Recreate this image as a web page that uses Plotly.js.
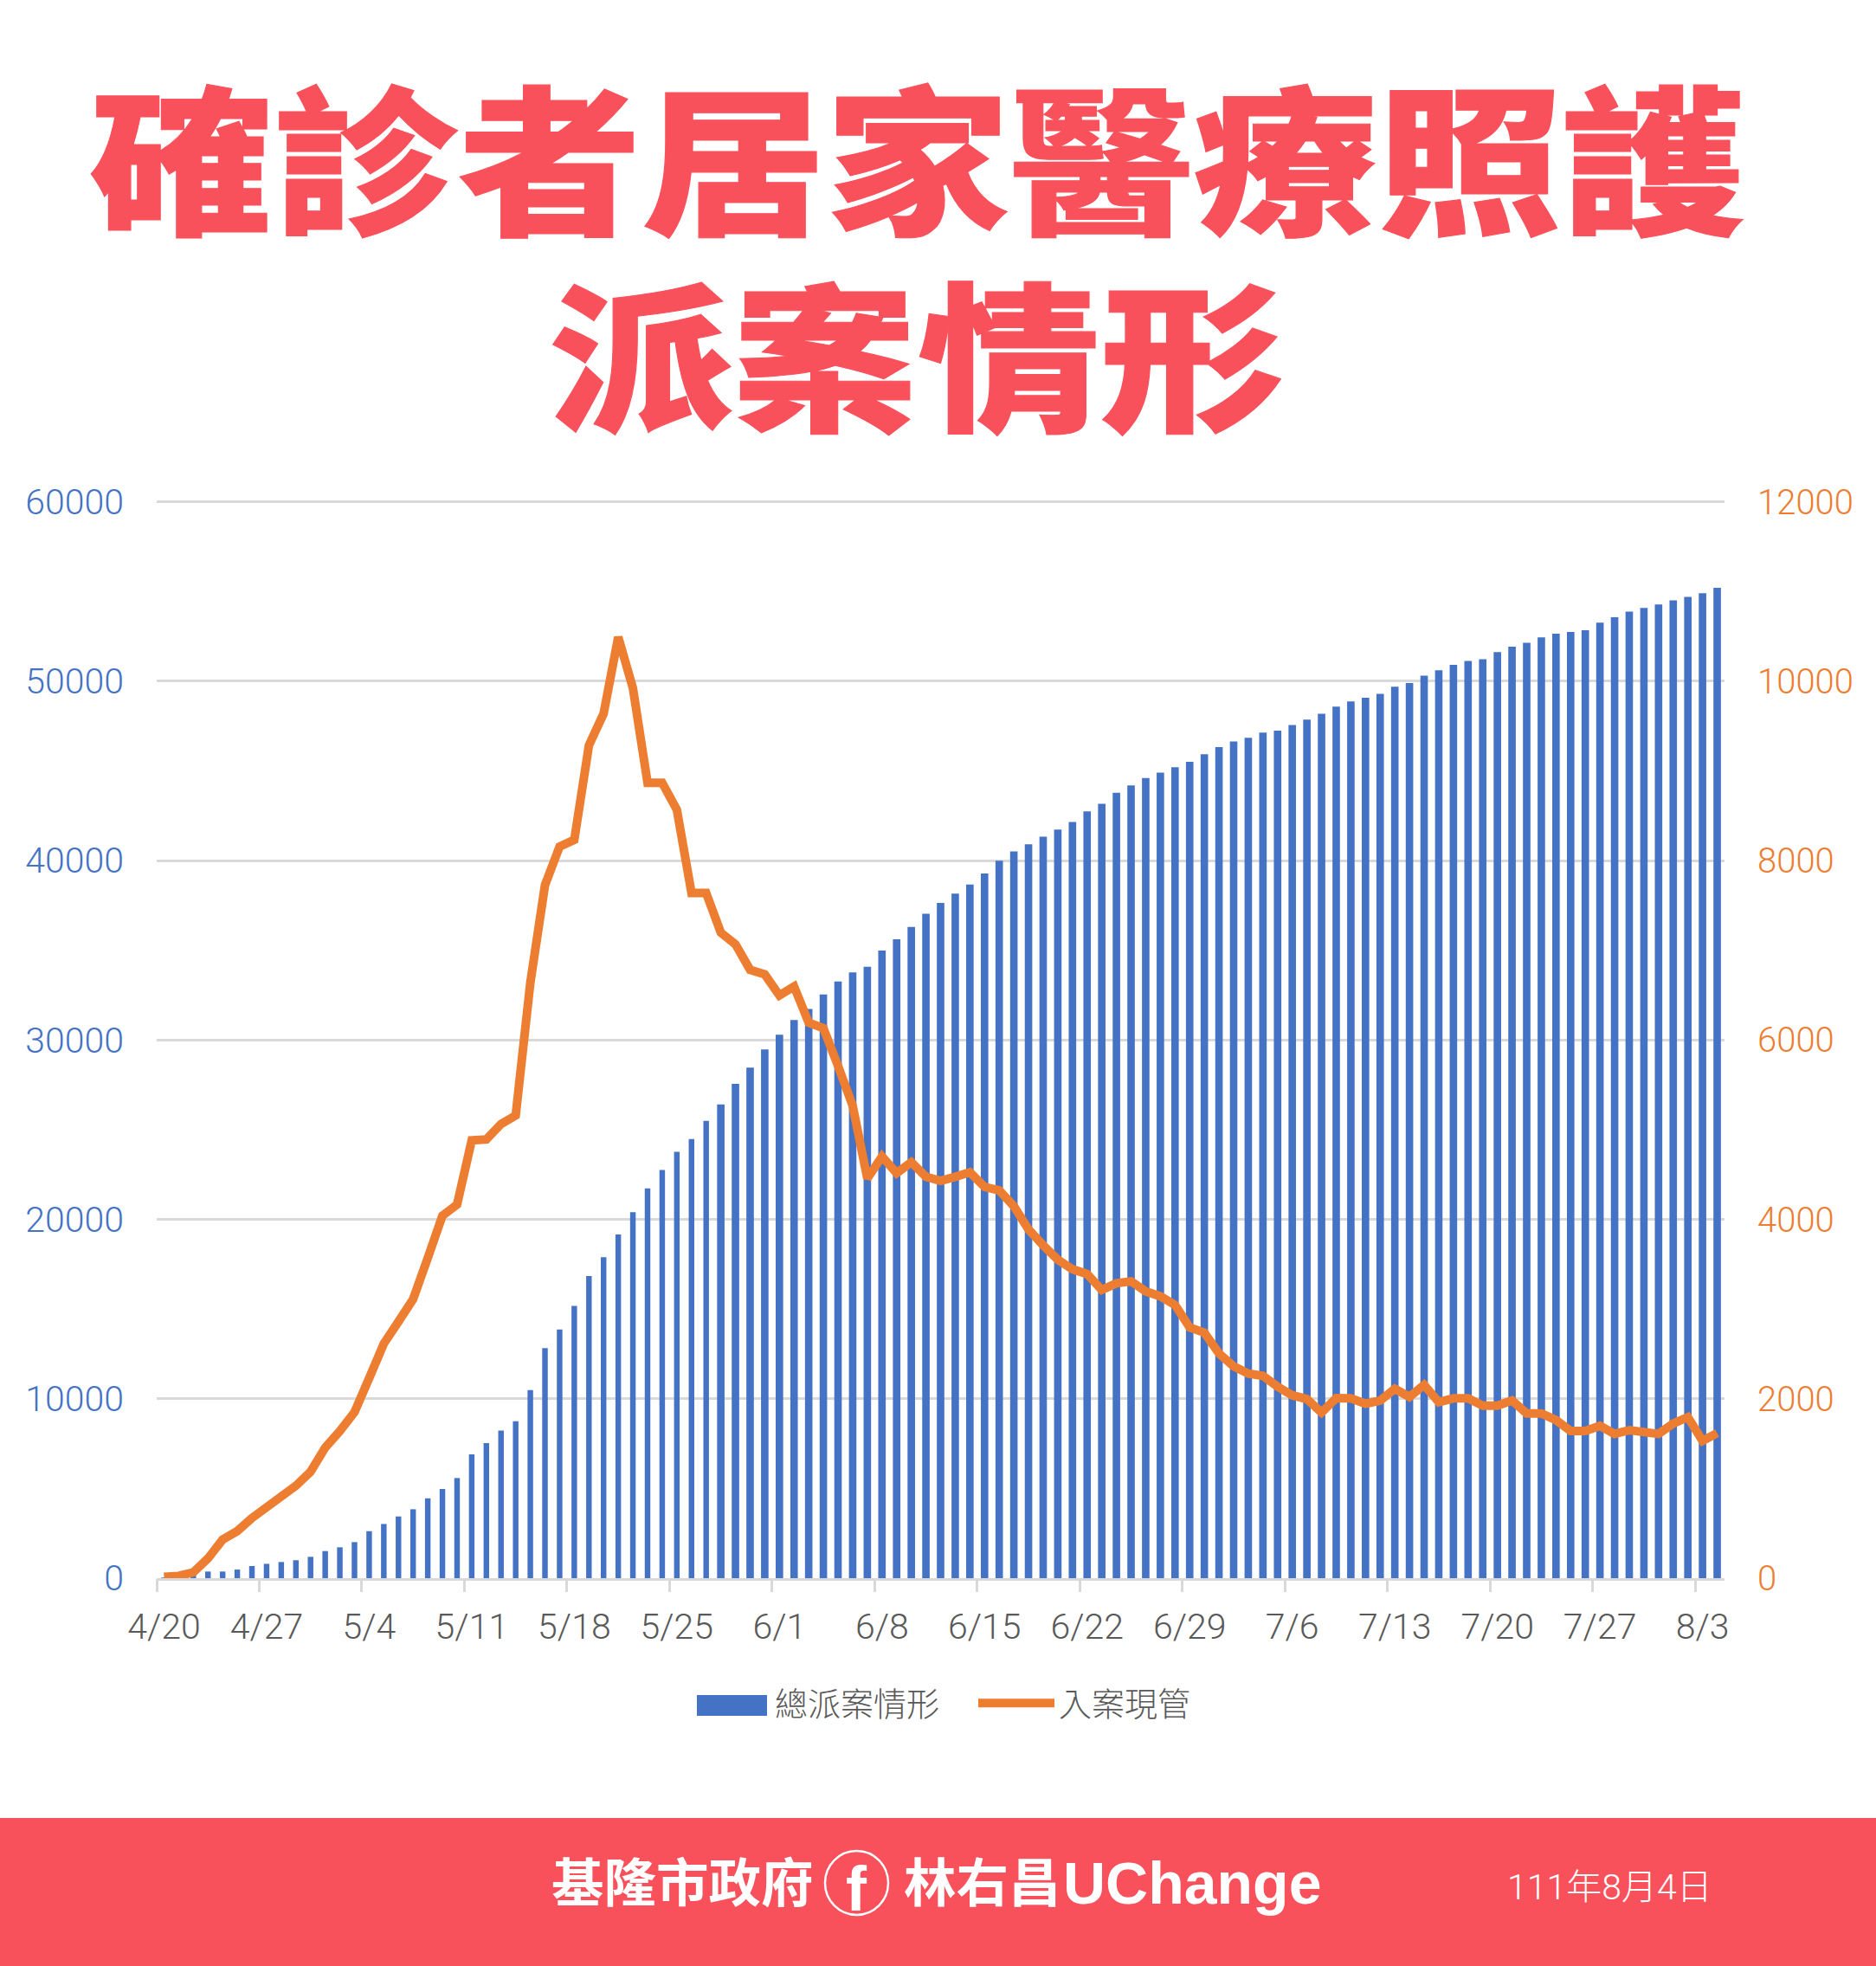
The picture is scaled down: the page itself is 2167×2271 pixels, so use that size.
<!DOCTYPE html>
<html>
<head>
<meta charset="utf-8">
<script src="https://cdn.plot.ly/plotly-3.0.1.min.js"></script>
<style>html,body{margin:0;padding:0;background:#fff}</style>
</head>
<body>
<div id="chart" style="width:2167px;height:2271px"></div>
<script>
const categories = ["4/20","4/21","4/22","4/23","4/24","4/25","4/26","4/27","4/28","4/29","4/30",
"5/1","5/2","5/3","5/4","5/5","5/6","5/7","5/8","5/9","5/10","5/11","5/12","5/13","5/14","5/15","5/16","5/17","5/18","5/19","5/20","5/21","5/22","5/23","5/24","5/25","5/26","5/27","5/28","5/29","5/30","5/31",
"6/1","6/2","6/3","6/4","6/5","6/6","6/7","6/8","6/9","6/10","6/11","6/12","6/13","6/14","6/15","6/16","6/17","6/18","6/19","6/20","6/21","6/22","6/23","6/24","6/25","6/26","6/27","6/28","6/29","6/30",
"7/1","7/2","7/3","7/4","7/5","7/6","7/7","7/8","7/9","7/10","7/11","7/12","7/13","7/14","7/15","7/16","7/17","7/18","7/19","7/20","7/21","7/22","7/23","7/24","7/25","7/26","7/27","7/28","7/29","7/30","7/31",
"8/1","8/2","8/3","8/4"];
const tickLabels = ["4/20","4/27","5/4","5/11","5/18","5/25","6/1","6/8","6/15","6/22","6/29","7/6","7/13","7/20","7/27","8/3"];
const totalCases = [10,50,200,370,370,480,675,800,900,1000,1190,1510,1720,2010,2620,3020,3440,3840,4450,4970,5580,6900,7530,8230,8750,10480,12820,13860,15180,16840,17890,19150,20400,21720,22750,23760,24480,25490,26410,27550,28460,29470,30290,31110,31730,32530,33260,33760,34080,34980,35610,36300,37030,37640,38160,38655,39280,39990,40505,40910,41330,41730,42150,42740,43160,43770,44190,44590,44900,45200,45505,45920,46325,46630,46840,47130,47240,47550,47855,48175,48580,48870,49075,49290,49690,49895,50300,50600,50905,51120,51215,51615,51920,52130,52435,52645,52740,52835,53255,53560,53870,54075,54270,54495,54690,54895,55200];
const activeCases = [15,25,65,220,430,525,670,790,910,1030,1185,1455,1640,1850,2230,2615,2860,3110,3570,4040,4165,4880,4891,5063,5158,6637,7726,8156,8230,9284,9637,10490,9922,8866,8866,8565,7638,7638,7196,7066,6782,6730,6497,6596,6192,6131,5710,5266,4455,4700,4515,4637,4474,4428,4474,4525,4361,4322,4146,3888,3711,3550,3444,3390,3213,3287,3309,3197,3142,3046,2795,2737,2505,2361,2280,2255,2135,2039,1997,1846,2007,2005,1945,1980,2110,2020,2155,1962,2004,2004,1923,1923,1981,1836,1836,1762,1640,1640,1698,1608,1650,1618,1608,1724,1795,1531,1618];
const seriesNames = ["總派案情形","入案現管"];
const leftTicks = [0,10000,20000,30000,40000,50000,60000];
const rightTicks = [0,2000,4000,6000,8000,10000,12000];

const W = 2167, H = 2271;
const px = v => v / W, py = v => 1 - v / H;
const RED = "#F9515B", BLUE = "#4472C4", ORANGE = "#ED7D31", GREY = "#595959", GRID = "#D9D9D9";
const CJK = '"Noto Sans CJK TC"';
const THIN = 'Roboto, "Noto Sans CJK TC"';

const traces = [
  {type:"bar", name:seriesNames[0], x:categories, y:totalCases, xaxis:"x", yaxis:"y",
   marker:{color:BLUE, line:{width:0}}, width:categories.map((c,i)=> i<38 ? 0.38 : 0.51), hoverinfo:"x+y"},
  {type:"scatter", mode:"lines", name:seriesNames[1], x:categories, y:activeCases, xaxis:"x", yaxis:"y2",
   line:{color:ORANGE, width:10, shape:"linear"}, hoverinfo:"x+y"},
  {type:"scatter", mode:"markers", x:[0], y:[0], xaxis:"x2", yaxis:"y", showlegend:false, hoverinfo:"skip",
   marker:{opacity:0, size:1}}
];

const text = (t, x, y, size, opts) => Object.assign({
  text:t, xref:"paper", yref:"paper", x:px(x), y:py(y), xanchor:"left", yanchor:"middle",
  showarrow:false, font:{family:CJK, size:size, color:"#fff", weight:700}
}, opts||{});

// a small head-room above the top tick keeps the 60000 gridline from being clipped
const topPx = 579.5 - 207.3 * 0.03;

const layout = {
  width:W, height:H, margin:{l:0,r:0,t:0,b:0,pad:0}, paper_bgcolor:"#fff", plot_bgcolor:"rgba(0,0,0,0)",
  title:{text:"確診者居家醫療照護", x:px(1060), y:py(195), xref:"paper", yref:"paper", xanchor:"center", yanchor:"middle",
         font:{family:CJK, size:212.5, color:RED, weight:900}, pad:{t:0,b:0,l:0,r:0}},
  barmode:"overlay", hovermode:"closest",
  xaxis:{type:"category", categoryorder:"array", categoryarray:categories, domain:[px(181),px(1992)], range:[-0.5,106.5], anchor:"y",
         tickmode:"array", tickvals:tickLabels, ticktext:tickLabels, ticks:"", ticklabelstandoff:18,
         tickfont:{family:THIN, size:41, color:GREY, weight:300}, showgrid:false, zeroline:false,
         showline:true, linecolor:GRID, linewidth:3, tickangle:0},
  xaxis2:{type:"linear", overlaying:"x", anchor:"y", domain:[px(181),px(1992)], range:[-0.5,106.5], side:"bottom",
         tickmode:"array", tickvals:tickLabels.map((t,k)=>k*7-0.5), ticks:"outside", ticklen:15, tickwidth:3, tickcolor:GRID,
         showticklabels:false, showgrid:false, zeroline:false, showline:false},
  yaxis:{domain:[py(1823),py(topPx)], range:[0,60300], anchor:"x", tickmode:"array", tickvals:leftTicks, ticktext:leftTicks.map(String),
         tickfont:{family:THIN, size:41, color:BLUE, weight:300}, ticks:"", ticklabelstandoff:37,
         showgrid:true, gridcolor:GRID, gridwidth:3, zeroline:false, showline:false},
  yaxis2:{domain:[py(1823),py(topPx)], range:[0,12060], anchor:"x", overlaying:"y", side:"right", tickmode:"array", tickvals:rightTicks, ticktext:rightTicks.map(String),
         tickfont:{family:THIN, size:40, color:ORANGE, weight:300}, ticks:"", ticklabelstandoff:37,
         showgrid:false, zeroline:false, showline:false},
  showlegend:true,
  legend:{orientation:"h", x:px(797), y:py(1936), xanchor:"left", yanchor:"top", bgcolor:"rgba(0,0,0,0)", itemwidth:88,
          entrywidth:225, entrywidthmode:"pixels",
          font:{family:CJK, size:38, color:GREY, weight:300}, itemclick:false, itemdoubleclick:false},
  shapes:[
    {type:"rect", xref:"paper", yref:"paper", x0:0, x1:1, y0:py(2100), y1:0, fillcolor:RED, line:{width:0}, layer:"below"},
    {type:"rect", xref:"paper", yref:"paper", x0:px(805), x1:px(886), y0:py(1958), y1:py(1982), fillcolor:BLUE, line:{width:0}, layer:"above"},
    {type:"circle", xref:"paper", yref:"paper", x0:px(953), x1:px(1026), y0:py(2138), y1:py(2212), fillcolor:"rgba(0,0,0,0)", line:{color:"#fff", width:2.5}, layer:"above"}
  ],
  annotations:[
    text("派案情形", 1058.5, 403, 212.5, {xanchor:"center", font:{family:CJK, size:212.5, color:RED, weight:900}}),
    text("基隆市政府", 635, 2170, 60.5),
    text("f", 989.5, 2182, 72, {xanchor:"center", font:{family:'"Liberation Sans"', size:72, color:"#fff", weight:700}}),
    text("林右昌", 1042, 2170, 60.5),
    text("UChange", 1226, 2175, 68, {font:{family:'"Liberation Sans"', size:68, color:"#fff", weight:700}}),
    text("111年8月4日", 1739, 2180, 41, {font:{family:THIN, size:41, color:"#fff", weight:300}})
  ]
};

// The headline in the reference is slightly squat and extra heavy
function squash(el, s) {
  if (!el) return;
  const b = el.getBBox();
  const cy = b.y + b.height / 2;
  el.setAttribute("transform", `translate(0 ${cy * (1 - s)}) scale(1 ${s})`);
  el.style.stroke = RED;
  el.style.strokeWidth = "1.2px";
}
Plotly.newPlot("chart", traces, layout, {displayModeBar:false, responsive:false}).then(gd => {
  squash(gd.querySelector(".gtitle"), 0.87);
  squash(gd.querySelector('.annotation[data-index="0"] text'), 0.87);
});
</script>
</body>
</html>
